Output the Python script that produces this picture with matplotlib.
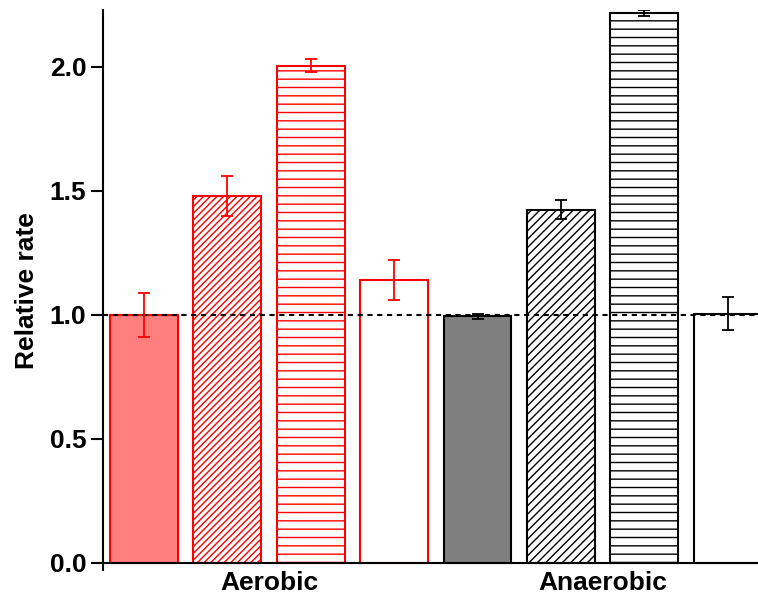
import matplotlib
matplotlib.use("Agg")
import matplotlib.pyplot as plt

plt.rcParams["font.family"] = ["Liberation Sans", "DejaVu Sans"]
plt.rcParams["font.weight"] = "bold"
plt.rcParams["hatch.linewidth"] = 1.0

# data
groups = ["Aerobic", "Anaerobic"]
aerobic_vals = [1.00, 1.48, 2.005, 1.14]
aerobic_err = [0.09, 0.08, 0.025, 0.08]
anaerobic_vals = [0.995, 1.425, 2.218, 1.005]
anaerobic_err = [0.01, 0.04, 0.012, 0.067]
yticks = [0.0, 0.5, 1.0, 1.5, 2.0]

# per-bar styles (same order in each group)
red_hatches = [None, "/////", "--", None]
black_hatches = [None, "////", "--", None]
red_faces = ["#ff7f7f", "white", "white", "white"]
black_faces = ["#7f7f7f", "white", "white", "white"]

fig = plt.figure(figsize=(7.58, 5.96), dpi=100)
ax = fig.add_axes([0.136, 0.043, 0.89, 0.9404])

width = 0.815
for i in range(4):
    ax.bar(i, aerobic_vals[i], width, color=red_faces[i], edgecolor="red",
           hatch=red_hatches[i], linewidth=1.5, zorder=2)
    ax.errorbar(i, aerobic_vals[i], yerr=aerobic_err[i], color="red",
                capsize=4, elinewidth=1.3, capthick=1.3, zorder=4)
    ax.bar(4 + i, anaerobic_vals[i], width, color=black_faces[i], edgecolor="black",
           hatch=black_hatches[i], linewidth=1.5, zorder=2)
    ax.errorbar(4 + i, anaerobic_vals[i], yerr=anaerobic_err[i], color="black",
                capsize=4, elinewidth=1.3, capthick=1.3, zorder=4)

# reference line at 1.0
ax.axhline(1.0, color="black", linestyle=(0, (2.5, 2.2)), linewidth=1.5, zorder=3)

ax.set_xlim(-0.49, 7.6)
ax.set_ylim(-0.03, 2.23)
ax.spines["bottom"].set_position(("data", 0))
ax.spines["top"].set_visible(False)
ax.spines["right"].set_visible(False)
for s in ("left", "bottom"):
    ax.spines[s].set_linewidth(1.5)

ax.set_yticks(yticks)
ax.set_yticklabels([f"{v:.1f}" for v in yticks])
ax.tick_params(axis="y", length=9, width=1.5, pad=3, labelsize=19)
ax.set_xticks([1.5, 5.5])
ax.set_xticklabels(groups)
ax.tick_params(axis="x", length=0, pad=6, labelsize=19)
ax.set_ylabel("Relative rate", fontsize=19, fontweight="bold", labelpad=8)

fig.savefig("out.png", dpi=100)
